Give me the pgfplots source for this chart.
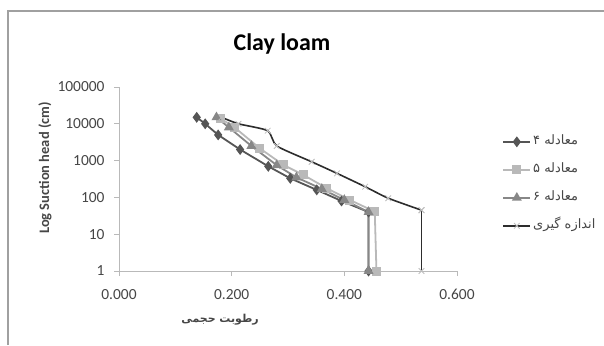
\documentclass[border=0pt]{standalone}
\usepackage{fontspec}
\setmainfont{Carlito}
\newfontfamily\fa[Script=Arabic]{DejaVu Sans}
\TeXXeTstate=1
\usepackage{pgfplots}
\pgfplotsset{compat=1.18}

\definecolor{framegray}{RGB}{160,160,160}
\definecolor{axisgray}{RGB}{185,185,185}
\definecolor{labelgray}{RGB}{70,70,70}
\definecolor{eqfour}{RGB}{85,85,85}
\definecolor{eqfive}{RGB}{185,185,185}
\definecolor{eqsix}{RGB}{135,135,135}
\definecolor{meas}{RGB}{45,45,45}
\definecolor{measmark}{RGB}{190,190,190}

\begin{document}
\begin{tikzpicture}[x=1bp,y=1bp]
\path[use as bounding box] (0,0) rectangle (604,-345);
\draw[framegray, line width=1.2bp] (8,-345) -- (8,-11) -- (604,-11);
\begin{axis}[
  at={(119bp,-271bp)}, anchor=south west,
  scale only axis, width=338bp, height=184bp,
  xmin=0, xmax=0.6, ymode=log, ymin=1, ymax=100000,
  axis x line*=bottom, axis y line*=left,
  axis line style={axisgray, line width=1bp, -},
  tick align=outside, major tick length=5bp,
  tick style={axisgray, line width=0.8bp},
  yminorticks=false,
  xtick={0,0.2,0.4,0.6}, xticklabels={0.000,0.200,0.400,0.600},
  ytick={1,10,100,1000,10000,100000},
  yticklabels={1,10,100,1000,10000,100000},
  ticklabel style={font=\fontsize{15.5}{17}\selectfont, text=labelgray},
  xticklabel style={yshift=-10bp},
  yticklabel style={xshift=-6bp},
  title={Clay loam},
  title style={at={(0.482,1.168)}, anchor=base, font=\fontsize{24}{28}\selectfont\bfseries},
  ylabel={Log Suction head (cm)},
  ylabel style={at={(-0.219,0.56)}, anchor=center, font=\fontsize{14.5}{16}\selectfont\bfseries, text=labelgray},
  xlabel={\fa\beginR رطوبت حجمی\endR},
  xlabel style={at={(0.299,-0.266)}, anchor=center, font=\fontsize{11}{13}\selectfont\bfseries, text=labelgray},
  legend style={draw=none, fill=none, at={(1.125,0.76)}, anchor=north west,
    font=\fontsize{13}{15}\selectfont, row sep=11bp, text=labelgray,
    nodes={text height=9bp, text depth=4bp}},
  legend cell align=left,
  legend image code/.code={\draw[mark repeat=2,mark phase=2] plot coordinates {(0bp,0bp) (13.5bp,0bp) (27bp,0bp)};},
]
% equation 4
\addplot[eqfour, line width=1.8bp, mark=diamond*, mark size=4bp, mark options={fill=eqfour, solid}]
coordinates {(0.138,15000) (0.153,10000) (0.176,5000) (0.215,2000) (0.265,700) (0.304,330) (0.351,160) (0.395,80) (0.443,40) (0.443,1)};
\addlegendentry{\fa\beginR معادله ۴\endR}
% equation 5
\addplot[eqfive, line width=1.8bp, mark=square*, mark size=3.6bp, mark options={fill=eqfive, solid}]
coordinates {(0.180,14000) (0.205,8000) (0.250,2150) (0.292,760) (0.327,410) (0.369,177) (0.410,85) (0.454,41) (0.457,1)};
\addlegendentry{\fa\beginR معادله ۵\endR}
% equation 6
\addplot[eqsix, line width=1.8bp, mark=triangle*, mark size=4bp, mark options={fill=eqsix, solid}]
coordinates {(0.173,15000) (0.195,8000) (0.235,2500) (0.280,750) (0.315,350) (0.360,170) (0.400,85) (0.443,40) (0.443,1)};
\addlegendentry{\fa\beginR معادله ۶\endR}
% measured: smoothed curve, then the saturated part straight down
\addplot[meas, line width=1.6bp, smooth, tension=0.35, mark=x, mark size=4bp, mark options={measmark, line width=0.8bp, solid}]
coordinates {(0.182,15000) (0.212,10000) (0.264,6500) (0.280,2500) (0.342,930) (0.387,450) (0.437,195) (0.478,95) (0.537,45)};
\addlegendentry{\fa\beginR اندازه گیری\endR}
\addplot[meas, line width=1.6bp, forget plot, mark=x, mark size=4bp, mark options={measmark, line width=0.8bp, solid}]
coordinates {(0.537,45) (0.537,1)};
\end{axis}
\end{tikzpicture}
\end{document}
